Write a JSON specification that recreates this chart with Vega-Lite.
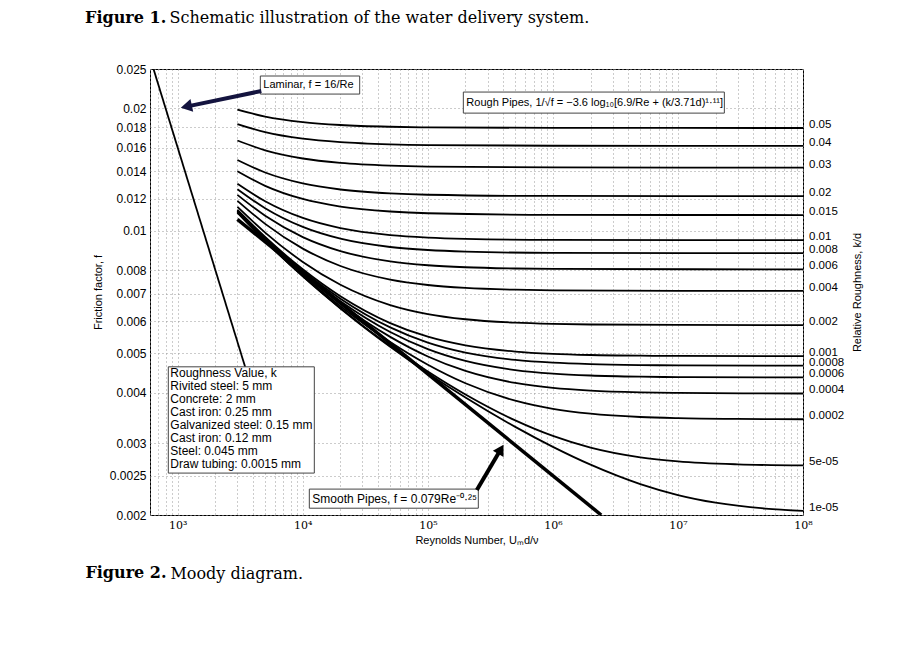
{
  "$schema": "https://vega.github.io/schema/vega-lite/v6.json",
  "background": "white",
  "padding": {"left": 85, "top": 9, "right": 5, "bottom": 5},
  "config": {
    "font": "Liberation Sans",
    "view": {"stroke": "black", "strokeWidth": 1},
    "text": {"font": "Liberation Sans"},
    "axis": {"labelColor": "black", "titleColor": "black", "titleFont": "Liberation Sans", "labelFont": "Liberation Sans", "titleFontWeight": "normal", "ticks": false, "domain": false, "labelFlush": false, "labelOverlap": false, "labelBound": false, "gridColor": "#999999", "gridDash": [1, 3], "gridWidth": 1},
    "title": {"color": "black", "font": "DejaVu Serif", "fontSize": 16}
  },
  "datasets": {
    "curves": [
      {"k":"0.05","Re":3000,"f":0.019863},{"k":"0.05","Re":5000,"f":0.019098},{"k":"0.05","Re":10000,"f":0.018508},{"k":"0.05","Re":20000,"f":0.018207},{"k":"0.05","Re":50000,"f":0.018024},{"k":"0.05","Re":100000,"f":0.017963},{"k":"0.05","Re":1000000,"f":0.017907},{"k":"0.05","Re":100000000,"f":0.017901},
      {"k":"0.04","Re":3000,"f":0.018307},{"k":"0.04","Re":5000,"f":0.017485},{"k":"0.04","Re":10000,"f":0.016845},{"k":"0.04","Re":20000,"f":0.016517},{"k":"0.04","Re":50000,"f":0.016316},{"k":"0.04","Re":100000,"f":0.016249},{"k":"0.04","Re":1000000,"f":0.016188},{"k":"0.04","Re":100000000,"f":0.016181},
      {"k":"0.03","Re":3000,"f":0.016674},{"k":"0.03","Re":5000,"f":0.015772},{"k":"0.03","Re":10000,"f":0.015059},{"k":"0.03","Re":20000,"f":0.014688},{"k":"0.03","Re":50000,"f":0.01446},{"k":"0.03","Re":100000,"f":0.014384},{"k":"0.03","Re":1000000,"f":0.014314},{"k":"0.03","Re":100000000,"f":0.014306},
      {"k":"0.02","Re":3000,"f":0.014936},{"k":"0.02","Re":5000,"f":0.013912},{"k":"0.02","Re":10000,"f":0.013079},{"k":"0.02","Re":20000,"f":0.012636},{"k":"0.02","Re":50000,"f":0.01236},{"k":"0.02","Re":100000,"f":0.012266},{"k":"0.02","Re":1000000,"f":0.012181},{"k":"0.02","Re":100000000,"f":0.012171},
      {"k":"0.015","Re":3000,"f":0.014016},{"k":"0.015","Re":5000,"f":0.012902},{"k":"0.015","Re":10000,"f":0.011976},{"k":"0.015","Re":20000,"f":0.011472},{"k":"0.015","Re":50000,"f":0.011154},{"k":"0.015","Re":100000,"f":0.011045},{"k":"0.015","Re":1000000,"f":0.010945},{"k":"0.015","Re":100000000,"f":0.010934},
      {"k":"0.01","Re":3000,"f":0.013055},{"k":"0.01","Re":5000,"f":0.01182},{"k":"0.01","Re":10000,"f":0.010754},{"k":"0.01","Re":20000,"f":0.010153},{"k":"0.01","Re":50000,"f":0.0097626},{"k":"0.01","Re":100000,"f":0.0096261},{"k":"0.01","Re":200000,"f":0.0095566},{"k":"0.01","Re":1000000,"f":0.0095004},{"k":"0.01","Re":100000000,"f":0.0094863},
      {"k":"0.008","Re":3000,"f":0.012659},{"k":"0.008","Re":5000,"f":0.011362},{"k":"0.008","Re":10000,"f":0.01022},{"k":"0.008","Re":20000,"f":0.0095607},{"k":"0.008","Re":50000,"f":0.0091234},{"k":"0.008","Re":100000,"f":0.0089689},{"k":"0.008","Re":200000,"f":0.0088897},{"k":"0.008","Re":1000000,"f":0.0088253},{"k":"0.008","Re":100000000,"f":0.0088093},
      {"k":"0.006","Re":3000,"f":0.012257},{"k":"0.006","Re":5000,"f":0.010888},{"k":"0.006","Re":10000,"f":0.009651},{"k":"0.006","Re":20000,"f":0.0089139},{"k":"0.006","Re":50000,"f":0.0084102},{"k":"0.006","Re":100000,"f":0.0082285},{"k":"0.006","Re":200000,"f":0.0081345},{"k":"0.006","Re":500000,"f":0.008077},{"k":"0.006","Re":1000000,"f":0.0080576},{"k":"0.006","Re":100000000,"f":0.0080383},
      {"k":"0.004","Re":3000,"f":0.011852},{"k":"0.004","Re":5000,"f":0.0104},{"k":"0.004","Re":10000,"f":0.0090412},{"k":"0.004","Re":20000,"f":0.0081934},{"k":"0.004","Re":50000,"f":0.0075853},{"k":"0.004","Re":100000,"f":0.0073573},{"k":"0.004","Re":200000,"f":0.0072373},{"k":"0.004","Re":500000,"f":0.007163},{"k":"0.004","Re":1000000,"f":0.0071378},{"k":"0.004","Re":10000000,"f":0.0071151},{"k":"0.004","Re":100000000,"f":0.0071125},
      {"k":"0.002","Re":3000,"f":0.01145},{"k":"0.002","Re":5000,"f":0.0099007},{"k":"0.002","Re":10000,"f":0.0083846},{"k":"0.002","Re":20000,"f":0.0073678},{"k":"0.002","Re":50000,"f":0.0065676},{"k":"0.002","Re":100000,"f":0.0062406},{"k":"0.002","Re":200000,"f":0.0060593},{"k":"0.002","Re":500000,"f":0.0059434},{"k":"0.002","Re":1000000,"f":0.0059034},{"k":"0.002","Re":2000000,"f":0.0058831},{"k":"0.002","Re":10000000,"f":0.0058668},{"k":"0.002","Re":100000000,"f":0.0058627},
      {"k":"0.001","Re":3000,"f":0.011257},{"k":"0.001","Re":5000,"f":0.0096544},{"k":"0.001","Re":10000,"f":0.0080428},{"k":"0.001","Re":20000,"f":0.0069051},{"k":"0.001","Re":50000,"f":0.0059305},{"k":"0.001","Re":100000,"f":0.0054892},{"k":"0.001","Re":200000,"f":0.0052254},{"k":"0.001","Re":500000,"f":0.0050463},{"k":"0.001","Re":1000000,"f":0.0049822},{"k":"0.001","Re":2000000,"f":0.0049491},{"k":"0.001","Re":5000000,"f":0.004929},{"k":"0.001","Re":10000000,"f":0.0049222},{"k":"0.001","Re":100000000,"f":0.0049161},
      {"k":"0.0008","Re":3000,"f":0.01122},{"k":"0.0008","Re":5000,"f":0.0096065},{"k":"0.0008","Re":10000,"f":0.0079746},{"k":"0.0008","Re":20000,"f":0.006809},{"k":"0.0008","Re":50000,"f":0.0057876},{"k":"0.0008","Re":100000,"f":0.0053102},{"k":"0.0008","Re":200000,"f":0.0050165},{"k":"0.0008","Re":500000,"f":0.0048121},{"k":"0.0008","Re":1000000,"f":0.0047375},{"k":"0.0008","Re":2000000,"f":0.0046988},{"k":"0.0008","Re":5000000,"f":0.0046751},{"k":"0.0008","Re":10000000,"f":0.0046671},{"k":"0.0008","Re":100000000,"f":0.0046599},
      {"k":"0.0006","Re":3000,"f":0.011183},{"k":"0.0006","Re":5000,"f":0.0095595},{"k":"0.0006","Re":10000,"f":0.0079071},{"k":"0.0006","Re":20000,"f":0.0067122},{"k":"0.0006","Re":50000,"f":0.0056388},{"k":"0.0006","Re":100000,"f":0.0051174},{"k":"0.0006","Re":200000,"f":0.0047845},{"k":"0.0006","Re":500000,"f":0.0045438},{"k":"0.0006","Re":1000000,"f":0.0044536},{"k":"0.0006","Re":2000000,"f":0.0044062},{"k":"0.0006","Re":5000000,"f":0.0043769},{"k":"0.0006","Re":10000000,"f":0.004367},{"k":"0.0006","Re":100000000,"f":0.0043581},
      {"k":"0.0004","Re":3000,"f":0.011148},{"k":"0.0004","Re":5000,"f":0.0095138},{"k":"0.0004","Re":10000,"f":0.0078409},{"k":"0.0004","Re":20000,"f":0.0066158},{"k":"0.0004","Re":50000,"f":0.0054844},{"k":"0.0004","Re":100000,"f":0.0049088},{"k":"0.0004","Re":200000,"f":0.0045216},{"k":"0.0004","Re":500000,"f":0.004225},{"k":"0.0004","Re":1000000,"f":0.0041084},{"k":"0.0004","Re":2000000,"f":0.0040454},{"k":"0.0004","Re":5000000,"f":0.0040059},{"k":"0.0004","Re":10000000,"f":0.0039924},{"k":"0.0004","Re":100000000,"f":0.0039802},
      {"k":"0.0002","Re":3000,"f":0.011115},{"k":"0.0002","Re":5000,"f":0.0094703},{"k":"0.0002","Re":10000,"f":0.0077774},{"k":"0.0002","Re":20000,"f":0.0065214},{"k":"0.0002","Re":50000,"f":0.0053265},{"k":"0.0002","Re":100000,"f":0.0046832},{"k":"0.0002","Re":200000,"f":0.0042172},{"k":"0.0002","Re":500000,"f":0.0038211},{"k":"0.0002","Re":1000000,"f":0.0036484},{"k":"0.0002","Re":2000000,"f":0.003549},{"k":"0.0002","Re":5000000,"f":0.0034837},{"k":"0.0002","Re":10000000,"f":0.0034609},{"k":"0.0002","Re":30000000,"f":0.0034453},{"k":"0.0002","Re":100000000,"f":0.0034398},
      {"k":"5e-05","Re":3000,"f":0.011092},{"k":"5e-05","Re":5000,"f":0.0094406},{"k":"5e-05","Re":10000,"f":0.0077336},{"k":"5e-05","Re":20000,"f":0.0064555},{"k":"5e-05","Re":50000,"f":0.0052112},{"k":"5e-05","Re":100000,"f":0.0045082},{"k":"5e-05","Re":200000,"f":0.0039578},{"k":"5e-05","Re":500000,"f":0.0034178},{"k":"5e-05","Re":1000000,"f":0.0031294},{"k":"5e-05","Re":2000000,"f":0.0029294},{"k":"5e-05","Re":5000000,"f":0.0027727},{"k":"5e-05","Re":10000000,"f":0.0027102},{"k":"5e-05","Re":30000000,"f":0.0026644},{"k":"5e-05","Re":100000000,"f":0.0026475},
      {"k":"1e-05","Re":3000,"f":0.011086},{"k":"1e-05","Re":5000,"f":0.0094339},{"k":"1e-05","Re":10000,"f":0.0077236},{"k":"1e-05","Re":20000,"f":0.0064403},{"k":"1e-05","Re":50000,"f":0.0051839},{"k":"1e-05","Re":100000,"f":0.0044651},{"k":"1e-05","Re":200000,"f":0.0038896},{"k":"1e-05","Re":500000,"f":0.003294},{"k":"1e-05","Re":1000000,"f":0.0029416},{"k":"1e-05","Re":2000000,"f":0.0026595},{"k":"1e-05","Re":5000000,"f":0.0023825},{"k":"1e-05","Re":10000000,"f":0.002239},{"k":"1e-05","Re":20000000,"f":0.0021442},{"k":"1e-05","Re":50000000,"f":0.0020742},{"k":"1e-05","Re":100000000,"f":0.0020476}
    ],
    "laminar": [{"Re":640,"f":0.025},{"Re":5000,"f":0.0032}],
    "smooth": [{"Re":3000,"f":0.010674},{"Re":2434000,"f":0.002}],
    "boxes": [
      {"name":"laminar","Re1":4574,"Re2":28500,"f1":0.024027,"f2":0.021692},
      {"name":"rough","Re1":192200,"Re2":23500000,"f1":0.02194,"f2":0.019473},
      {"name":"roughness","Re1":840.5,"Re2":12365,"f1":0.0046288,"f2":0.0025357},
      {"name":"smooth","Re1":11277,"Re2":253300,"f1":0.002316,"f2":0.0020784}
    ],
    "notes": [
      {"name":"laminar","label":"Laminar, f = 16/Re","Re":4574,"f":0.022834},
      {"name":"rough","label":"Rough Pipes, 1/√f = −3.6 log₁₀[6.9/Re + (k/3.71d)¹·¹¹]","Re":192200,"f":0.020666},
      {"name":"smooth","label":"Smooth Pipes, f = 0.079Re⁻⁰·²⁵","Re":11277,"f":0.0021934}
    ],
    "legendbox": [
      {"label":"Roughness Value, k\nRivited steel: 5 mm\nConcrete: 2 mm\nCast iron: 0.25 mm\nGalvanized steel: 0.15 mm\nCast iron: 0.12 mm\nSteel: 0.045 mm\nDraw tubing: 0.0015 mm","Re":840.5,"f":0.0046288}
    ],
    "arrows": [
      {"arrow":"laminar","end":"tail","Re":4659,"f":0.022065},
      {"arrow":"laminar","end":"head","Re":1171,"f":0.020206},
      {"arrow":"smooth","end":"tail","Re":246500,"f":0.0023029},
      {"arrow":"smooth","end":"head","Re":383500,"f":0.0029024}
    ]
  },
  "title": {"text": "Figure 2.", "orient": "bottom", "anchor": "start", "fontWeight": "bold", "dx": 0.3, "dy": -37, "offset": 20},
  "vconcat": [{
    "title": {"text": "Moody diagram.", "orient": "bottom", "anchor": "start", "fontWeight": "normal", "dx": 85.3, "offset": 20},
    "vconcat": [{
      "title": {"text": "Figure 1.", "anchor": "start", "fontWeight": "bold", "dx": -6.7, "dy": 16, "offset": 0},
      "vconcat": [{
        "title": {"text": "Schematic illustration of the water delivery system.", "anchor": "start", "fontWeight": "normal", "dx": 77.3, "offset": 37},
        "width": 653,
        "height": 446,
        "resolve": {"axis": {"x": "independent", "y": "independent"}},
        "layer": [
          {
            "data": {"name": "curves"},
            "mark": {"type": "line", "color": "black", "strokeWidth": 1.8, "interpolate": "monotone", "clip": true},
            "encoding": {
              "x": {"field": "Re", "type": "quantitative", "scale": {"type": "log", "domain": [600, 100000000], "nice": false},
                "axis": {"title": "Reynolds Number, Uₘd/ν", "titleFontSize": 11, "titlePadding": 4, "labelFont": "DejaVu Serif", "labelFontSize": 11, "labelPadding": 4,
                  "values": [600,700,800,900,1000,2000,3000,4000,5000,6000,7000,8000,9000,10000,20000,30000,40000,50000,60000,70000,80000,90000,100000,200000,300000,400000,500000,600000,700000,800000,900000,1000000,2000000,3000000,4000000,5000000,6000000,7000000,8000000,9000000,10000000,20000000,30000000,40000000,50000000,60000000,70000000,80000000,90000000,100000000],
                  "labelExpr": "datum.value == 1000 ? '10³' : datum.value == 10000 ? '10⁴' : datum.value == 100000 ? '10⁵' : datum.value == 1000000 ? '10⁶' : datum.value == 10000000 ? '10⁷' : datum.value == 100000000 ? '10⁸' : ''"}},
              "y": {"field": "f", "type": "quantitative", "scale": {"type": "log", "domain": [0.002, 0.025], "nice": false},
                "axis": {"title": "Friction factor, f", "titleFontSize": 11, "titlePadding": 6, "labelFontSize": 12, "labelPadding": 4,
                  "values": [0.002,0.0025,0.003,0.004,0.005,0.006,0.007,0.008,0.01,0.012,0.014,0.016,0.018,0.02,0.025],
                  "labelExpr": "format(datum.value, '~g')"}},
              "detail": {"field": "k", "type": "nominal"}
            }
          },
          {
            "data": {"name": "curves"},
            "transform": [{"filter": "datum.Re == 100000000"}],
            "mark": {"type": "text", "align": "left", "baseline": "middle", "dx": 6, "dy": -3, "fontSize": 11.5, "color": "black", "font": "Liberation Sans"},
            "encoding": {
              "x": {"field": "Re", "type": "quantitative", "axis": null},
              "y": {"field": "f", "type": "quantitative", "axis": {"orient": "right", "labels": false, "grid": false, "title": "Relative Roughness, k/d", "titleFontSize": 11, "titlePadding": 59, "titleAngle": 270}},
              "text": {"field": "k"}
            }
          },
          {
            "data": {"name": "laminar"},
            "mark": {"type": "line", "color": "black", "strokeWidth": 1.8, "clip": true},
            "encoding": {"x": {"field": "Re", "type": "quantitative", "axis": null}, "y": {"field": "f", "type": "quantitative", "axis": null}}
          },
          {
            "data": {"name": "smooth"},
            "mark": {"type": "line", "color": "black", "strokeWidth": 3.5, "clip": true},
            "encoding": {"x": {"field": "Re", "type": "quantitative", "axis": null}, "y": {"field": "f", "type": "quantitative", "axis": null}}
          },
          {
            "data": {"name": "boxes"},
            "mark": {"type": "rect", "fill": "white", "stroke": "#444444", "strokeWidth": 1},
            "encoding": {"x": {"field": "Re1", "type": "quantitative", "axis": null}, "x2": {"field": "Re2"}, "y": {"field": "f1", "type": "quantitative", "axis": null}, "y2": {"field": "f2"}}
          },
          {
            "data": {"name": "notes"},
            "transform": [{"filter": "datum.name != 'smooth'"}],
            "mark": {"type": "text", "align": "left", "baseline": "middle", "dx": 3, "fontSize": 11, "color": "black", "font": "Liberation Sans"},
            "encoding": {"x": {"field": "Re", "type": "quantitative", "axis": null}, "y": {"field": "f", "type": "quantitative", "axis": null}, "text": {"field": "label"}}
          },
          {
            "data": {"name": "notes"},
            "transform": [{"filter": "datum.name == 'smooth'"}],
            "mark": {"type": "text", "align": "left", "baseline": "middle", "dx": 3, "fontSize": 12, "color": "black", "font": "Liberation Sans"},
            "encoding": {"x": {"field": "Re", "type": "quantitative", "axis": null}, "y": {"field": "f", "type": "quantitative", "axis": null}, "text": {"field": "label"}}
          },
          {
            "data": {"name": "legendbox"},
            "mark": {"type": "text", "align": "left", "baseline": "top", "dx": 2, "dy": 1, "fontSize": 12, "lineBreak": "\n", "lineHeight": 13, "color": "black", "font": "Liberation Sans"},
            "encoding": {"x": {"field": "Re", "type": "quantitative", "axis": null}, "y": {"field": "f", "type": "quantitative", "axis": null}, "text": {"field": "label"}}
          },
          {
            "data": {"name": "arrows"},
            "mark": {"type": "line", "strokeWidth": 4},
            "encoding": {"x": {"field": "Re", "type": "quantitative", "axis": null}, "y": {"field": "f", "type": "quantitative", "axis": null},
              "color": {"field": "arrow", "type": "nominal", "scale": {"domain": ["laminar", "smooth"], "range": ["#14143f", "black"]}, "legend": null}}
          },
          {
            "data": {"name": "arrows"},
            "transform": [{"filter": "datum.arrow == 'laminar' && datum.end == 'head'"}],
            "mark": {"type": "point", "shape": "triangle-left", "angle": 348, "size": 170, "filled": true, "color": "#14143f", "opacity": 1},
            "encoding": {"x": {"field": "Re", "type": "quantitative", "axis": null}, "y": {"field": "f", "type": "quantitative", "axis": null}}
          },
          {
            "data": {"name": "arrows"},
            "transform": [{"filter": "datum.arrow == 'smooth' && datum.end == 'head'"}],
            "mark": {"type": "point", "shape": "triangle-up", "angle": 30, "size": 150, "filled": true, "color": "black", "opacity": 1},
            "encoding": {"x": {"field": "Re", "type": "quantitative", "axis": null}, "y": {"field": "f", "type": "quantitative", "axis": null}}
          }
        ]
      }]
    }]
  }]
}
